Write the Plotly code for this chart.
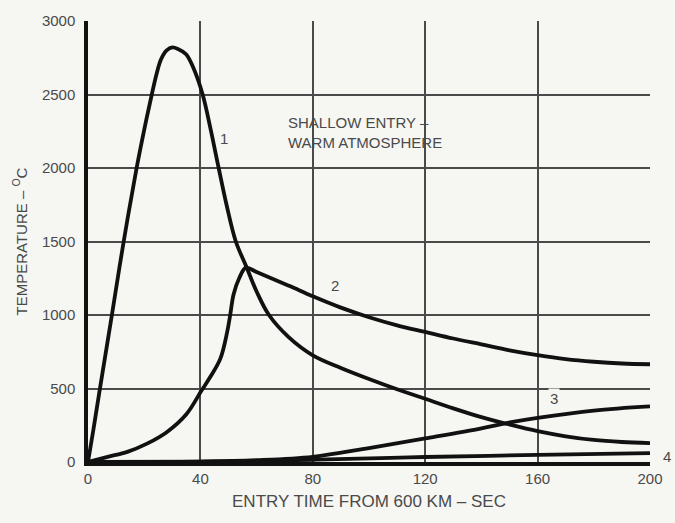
import plotly.graph_objects as go

# Curve data (time in s, temperature in deg C)
c1_t = [0, 2, 4, 8.5, 12.7, 17.3, 20, 22.7, 24.4, 26, 28, 30, 32, 34.9, 37.3, 40.8, 43.4, 46.5, 49.3, 52.6, 56.4, 60, 64.4, 71.5, 80, 90, 100, 110, 120, 130, 140, 150, 160, 170, 180, 190, 200]
c1_v = [0, 230, 470, 1000, 1500, 2000, 2260, 2500, 2640, 2740, 2800, 2820, 2810, 2774, 2690, 2500, 2285, 2000, 1750, 1500, 1327, 1160, 1000, 848, 726, 640, 565, 495, 430, 365, 305, 255, 210, 175, 150, 136, 128]

c2_t = [0, 7, 14, 21, 28, 35, 40.4, 43.6, 47.1, 49.5, 50.6, 51.8, 53.8, 56.2, 60, 65, 72, 80, 90, 100, 110, 120, 130, 140, 150, 160, 170, 180, 190, 200]
c2_v = [0, 35, 69, 125, 203, 325, 486, 581, 703, 882, 1000, 1140, 1250, 1322, 1292, 1252, 1195, 1127, 1050, 985, 930, 885, 840, 800, 760, 727, 700, 682, 670, 665]

c3_t = [0, 40, 60, 80, 100, 120, 140, 149, 160, 180, 200]
c3_v = [0, 3, 12, 35, 95, 160, 228, 265, 300, 350, 378]

c4_t = [0, 40, 80, 120, 160, 200]
c4_v = [0, 3, 15, 34, 48, 60]

x_ticks = [0, 40, 80, 120, 160, 200]
y_ticks = [0, 500, 1000, 1500, 2000, 2500, 3000]

ink = "#111111"
txt = "#4a4a4a"
bg = "#f6f6f3"
font_family = "Liberation Sans"

fig = go.Figure()
for t, v in [(c1_t, c1_v), (c2_t, c2_v), (c3_t, c3_v), (c4_t, c4_v)]:
    fig.add_trace(go.Scatter(x=t, y=v, mode="lines",
                             line=dict(color=ink, width=3.8, shape="spline", smoothing=1.0),
                             showlegend=False, hoverinfo="skip"))

labels = [("1", 48.5, 2198), ("2", 87.8, 1200), ("3", 166, 434)]
for s, x, y in labels:
    fig.add_annotation(x=x, y=y, text=s, showarrow=False, bgcolor=bg if s == "3" else None,
                       font=dict(family=font_family, size=15, color=txt))
# label "4" sits just outside the plotting area
fig.add_annotation(xref="paper", yref="y", x=1.02, y=40, text="4", showarrow=False,
                   xanchor="left", font=dict(family=font_family, size=15, color=txt))

fig.add_annotation(x=70.5, y=2240, text="SHALLOW ENTRY \u2013<br>WARM ATMOSPHERE", showarrow=False,
                   xanchor="left", yanchor="middle", align="left",
                   font=dict(family=font_family, size=15, color=txt))

fig.update_xaxes(range=[0, 200], tickvals=x_ticks, showgrid=True, gridcolor="#4a4a4a", gridwidth=1.6,
                 zeroline=False, showline=True, linecolor=ink, linewidth=3.5,
                 ticks="", tickfont=dict(family=font_family, size=15, color=txt),
                 title=dict(text="ENTRY TIME FROM 600 KM \u2013 SEC",
                            font=dict(family=font_family, size=17, color=txt), standoff=10))
fig.update_yaxes(range=[0, 3000], tickvals=y_ticks, showgrid=True, gridcolor="#4a4a4a", gridwidth=1.6,
                 zeroline=False, showline=True, linecolor=ink, linewidth=3.5,
                 ticks="", ticklabelstandoff=6, tickfont=dict(family=font_family, size=15, color=txt),
                 title=dict(text="TEMPERATURE \u2013 <sup>O</sup>C",
                            font=dict(family=font_family, size=15, color=txt), standoff=12))

fig.update_layout(width=675, height=523, margin=dict(l=88, r=22, t=13, b=61),
                  paper_bgcolor=bg, plot_bgcolor=bg)

fig.write_html("out.html")
